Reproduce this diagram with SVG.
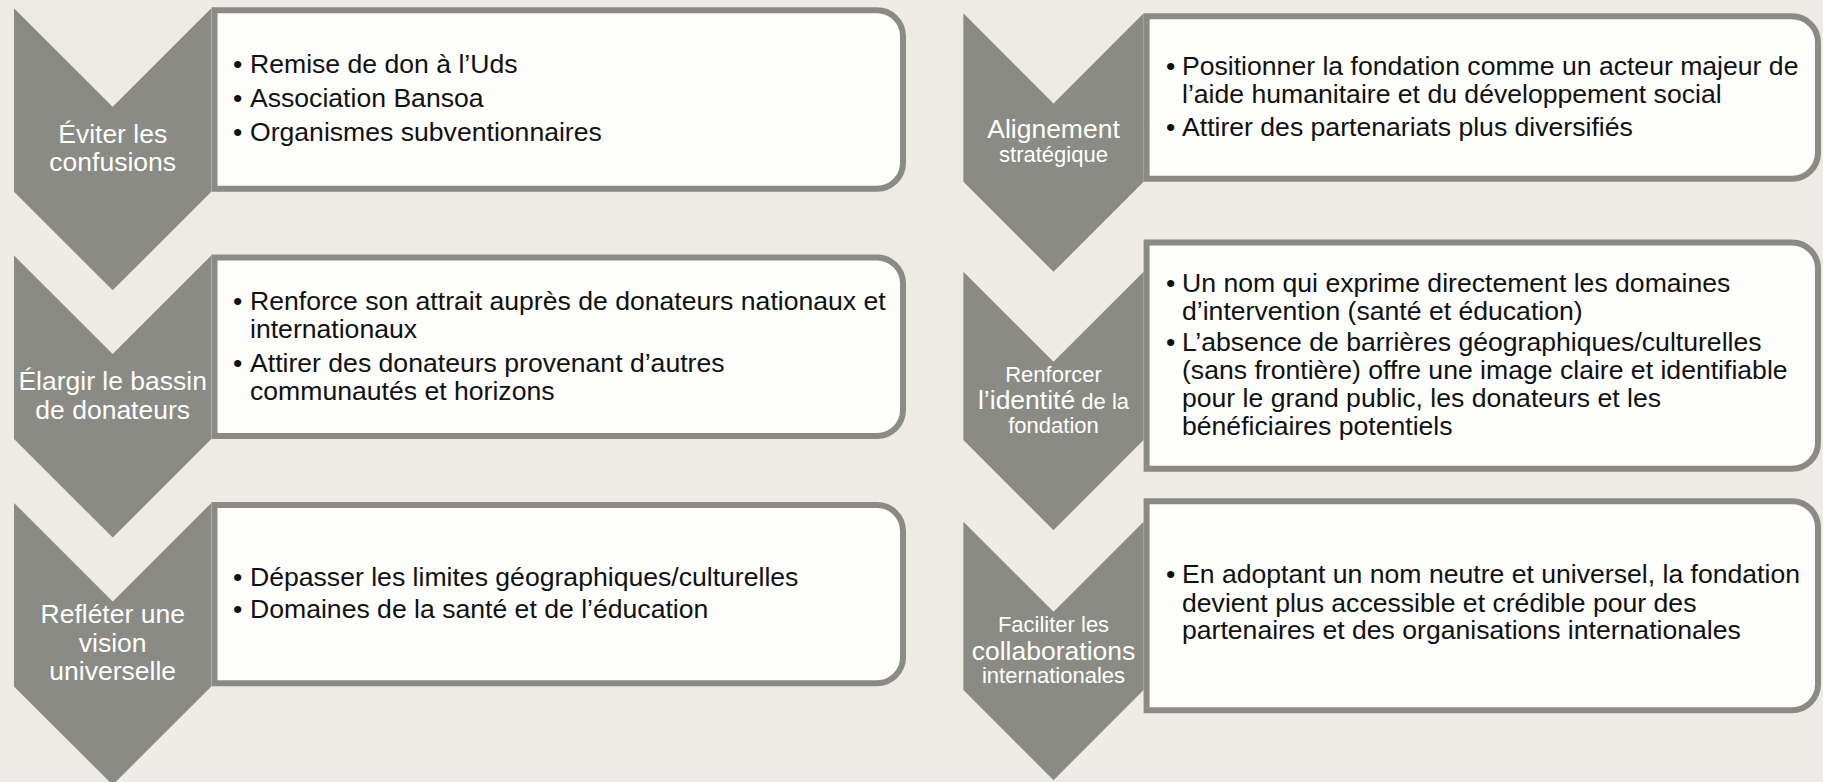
<svg xmlns="http://www.w3.org/2000/svg" width="1823" height="782" viewBox="0 0 1823 782">
<style>
.bg{fill:#EEEBE4}
.chev{fill:#8A8B84}
.box{fill:#FDFDFB;stroke:#8A8B84;stroke-width:6}
.lbl{font-family:"Liberation Sans",Arial,sans-serif;font-size:26.5px;fill:#FFFFFF;text-anchor:middle}
.sm{font-size:22px}
.lg{font-size:26.5px}
.txt{font-family:"Liberation Sans",Arial,sans-serif;font-size:26.6px;fill:#111111}
</style>
<rect class="bg" x="0" y="0" width="1823" height="782"/>
<g id="connectors"></g>

<g id="left-1">
<polygon class="chev" points="14,8.3 112.7,106.8 211.3,8.3 211.3,191.8 112.7,290.3 14,191.8"/>
<path class="box" d="M214.5,10.3 H877 A26,26 0 0 1 903,36.3 V162.7 A26,26 0 0 1 877,188.7 H214.5 Z"/>
<text class="lbl" x="112.7" y="142.7">Éviter les</text>
<text class="lbl" x="112.7" y="170.7">confusions</text>
<g class="txt">
<text x="233" y="72.7">•</text><text x="250" y="72.7">Remise de don à l’Uds</text>
<text x="233" y="106.7">•</text><text x="250" y="106.7">Association Bansoa</text>
<text x="233" y="140.7">•</text><text x="250" y="140.7">Organismes subventionnaires</text>
</g>
</g>

<g id="left-2">
<polygon class="chev" points="14,255.6 112.7,354.1 211.3,255.6 211.3,439.1 112.7,537.6 14,439.1"/>
<path class="box" d="M214.5,257.6 H877 A26,26 0 0 1 903,283.6 V410 A26,26 0 0 1 877,436 H214.5 Z"/>
<text class="lbl" x="112.7" y="390">Élargir le bassin</text>
<text class="lbl" x="112.7" y="419">de donateurs</text>
<g class="txt">
<text x="233" y="310">•</text><text x="250" y="310">Renforce son attrait auprès de donateurs nationaux et</text>
<text x="250" y="338.3">internationaux</text>
<text x="233" y="371.7">•</text><text x="250" y="371.7">Attirer des donateurs provenant d’autres</text>
<text x="250" y="400">communautés et horizons</text>
</g>
</g>

<g id="left-3">
<polygon class="chev" points="14,502.9 112.7,601.4 211.3,502.9 211.3,686.4 112.7,784.9 14,686.4"/>
<path class="box" d="M214.5,504.9 H877 A26,26 0 0 1 903,530.9 V657.3 A26,26 0 0 1 877,683.3 H214.5 Z"/>
<text class="lbl" x="112.7" y="623.3">Refléter une</text>
<text class="lbl" x="112.7" y="651.7">vision</text>
<text class="lbl" x="112.7" y="680">universelle</text>
<g class="txt">
<text x="233" y="586">•</text><text x="250" y="586">Dépasser les limites géographiques/culturelles</text>
<text x="233" y="618.3">•</text><text x="250" y="618.3">Domaines de la santé et de l’éducation</text>
</g>
</g>

<g id="right-1">
<polygon class="chev" points="963.4,13.3 1053.5,103.4 1143.6,13.3 1143.6,181.7 1053.5,271.8 963.4,181.7"/>
<path class="box" d="M1146.6,16.3 H1792 A26,26 0 0 1 1818,42.3 V152.7 A26,26 0 0 1 1792,178.7 H1146.6 Z"/>
<text class="lbl" x="1053.5" y="137.5">Alignement</text>
<text class="lbl sm" x="1053.5" y="161.5">stratégique</text>
<g class="txt">
<text x="1166" y="74.5">•</text><text x="1182" y="74.5">Positionner la fondation comme un acteur majeur de</text>
<text x="1182" y="103">l’aide humanitaire et du développement social</text>
<text x="1166" y="135.5">•</text><text x="1182" y="135.5">Attirer des partenariats plus diversifiés</text>
</g>
</g>

<g id="right-2">
<polygon class="chev" points="963.4,271.7 1053.5,361.8 1143.6,271.7 1143.6,440.1 1053.5,530.2 963.4,440.1"/>
<path class="box" d="M1146.6,242.5 H1792 A26,26 0 0 1 1818,268.5 V442.7 A26,26 0 0 1 1792,468.7 H1146.6 Z"/>
<text class="lbl sm" x="1053.5" y="381.7">Renforcer</text>
<text class="lbl" x="1053.5" y="409.3"><tspan class="lg">l’identité</tspan><tspan class="sm"> de la</tspan></text>
<text class="lbl sm" x="1053.5" y="433.3">fondation</text>
<g class="txt">
<text x="1166" y="291.5">•</text><text x="1182" y="291.5">Un nom qui exprime directement les domaines</text>
<text x="1182" y="319.5">d’intervention (santé et éducation)</text>
<text x="1166" y="351">•</text><text x="1182" y="351">L’absence de barrières géographiques/culturelles</text>
<text x="1182" y="379">(sans frontière) offre une image claire et identifiable</text>
<text x="1182" y="407">pour le grand public, les donateurs et les</text>
<text x="1182" y="435">bénéficiaires potentiels</text>
</g>
</g>

<g id="right-3">
<polygon class="chev" points="963.4,521.7 1053.5,611.8 1143.6,521.7 1143.6,690.1 1053.5,780.2 963.4,690.1"/>
<path class="box" d="M1146.6,501.3 H1792 A26,26 0 0 1 1818,527.3 V684.3 A26,26 0 0 1 1792,710.3 H1146.6 Z"/>
<text class="lbl sm" x="1053.5" y="631.7">Faciliter les</text>
<text class="lbl" x="1053.5" y="660">collaborations</text>
<text class="lbl sm" x="1053.5" y="682.7">internationales</text>
<g class="txt">
<text x="1166" y="583.3">•</text><text x="1182" y="583.3">En adoptant un nom neutre et universel, la fondation</text>
<text x="1182" y="611.7">devient plus accessible et crédible pour des</text>
<text x="1182" y="639.3">partenaires et des organisations internationales</text>
</g>
</g>
</svg>
